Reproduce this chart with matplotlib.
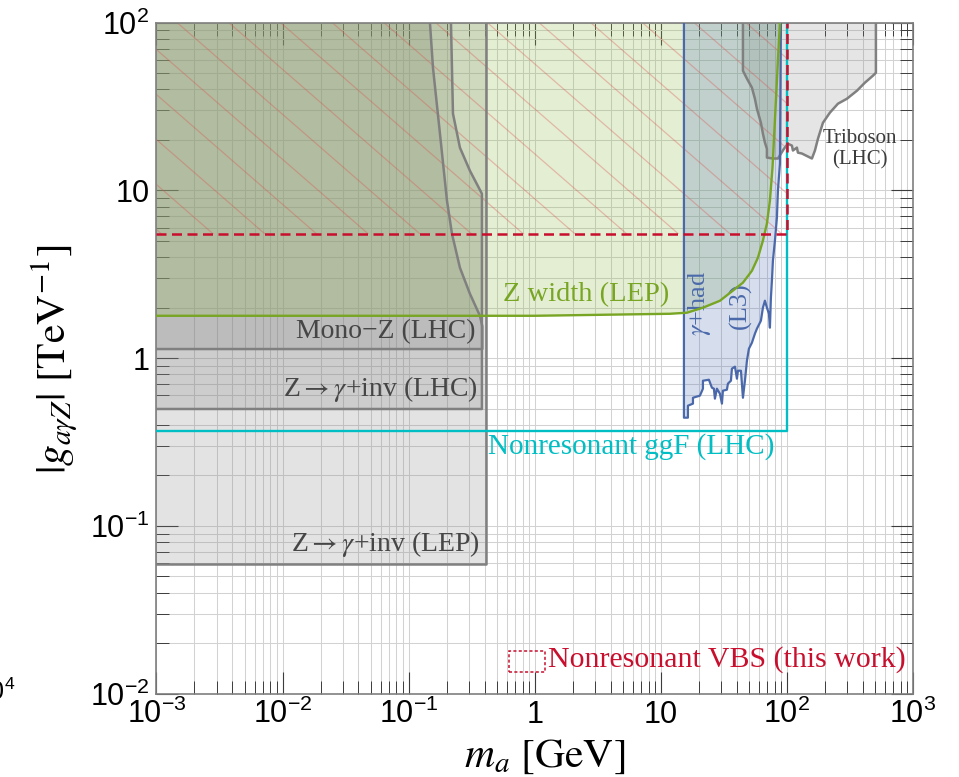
import numpy as np
import matplotlib
matplotlib.use("Agg")
import matplotlib.pyplot as plt
from matplotlib.patches import Rectangle
from matplotlib.ticker import FixedLocator, FixedFormatter, LogLocator, NullFormatter

plt.rcParams.update({
    "mathtext.fontset": "custom",
    "mathtext.rm": "Liberation Sans",
    "mathtext.it": "Liberation Sans:italic",
    "mathtext.bf": "Liberation Sans:bold",
})

SERIF = ["Liberation Serif", "DejaVu Serif"]

# ---------------- data ----------------
x_ticks = [1e-3, 1e-2, 1e-1, 1, 10, 1e2, 1e3]
x_tick_labels = [r"$10^{-3}$", r"$10^{-2}$", r"$10^{-1}$", "1", "10", r"$10^{2}$", r"$10^{3}$"]
y_ticks = [1e-2, 1e-1, 1, 10, 1e2]
y_tick_labels = [r"$10^{-2}$", r"$10^{-1}$", "1", "10", r"$10^{2}$"]

# Z -> gamma + inv (LEP)
lep_m = [1e-3, 0.41, 0.41, 1e-3]
lep_g = [0.0593, 0.0593, 100, 100]

# Z -> gamma + inv (LHC)
lhc_m = [1e-3, 0.381, 0.381, 0.3062, 0.2551, 0.2246, 0.2165, 1e-3]
lhc_g = [0.498, 0.498, 9.56, 13.1, 17.98, 28.7, 100, 100]

# Mono-Z (LHC)
monoz_m = [1e-3, 0.384, 0.384, 0.3675, 0.3062, 0.2551, 0.2205, 0.2013, 0.1771, 0.1559, 0.1475, 1e-3]
monoz_g = [1.134, 1.134, 1.55, 1.79, 2.42, 3.46, 5.52, 8.69, 21.8, 53.9, 100, 100]

# Triboson (LHC)
tri_m = [44.80, 44.80, 48.19, 52.78, 55.75, 57.82, 62.19, 64.52, 66.91, 69.40, 69.40,
         77.45, 84.86, 94.67, 101.8, 109.6, 111.6, 120.0, 122.3, 131.5, 157.9, 166.8,
         176.2, 193.0, 219.3, 253.9, 299.1, 359.1, 415.6, 480.8, 507.9, 507.9]
tri_g = [100, 51.7, 46.4, 41.0, 35.2, 30.7, 25.3, 21.8, 19.3, 17.7, 15.7,
         15.5, 15.5, 17.7, 19.0, 18.5, 17.3, 18.0, 16.8, 16.6, 15.5, 17.3,
         20.3, 25.3, 29.1, 32.9, 35.2, 39.3, 43.9, 48.3, 50.3, 100]

# Z width (LEP)
zw_m = [1e-3, 1.0, 11.81, 16.11, 21.57, 29.43, 37.31, 44.80, 52.78, 58.88, 64.52,
        69.40, 73.31, 76.87, 78.13, 81.8, 84.86, 88.02]
zw_g = [1.79, 1.79, 1.84, 1.867, 2.00, 2.20, 2.53, 2.82, 3.32, 3.97, 5.02,
        6.34, 8.69, 13.7, 17.3, 34.2, 59.4, 100]

# gamma + had (L3)
l3_m = [15.25, 15.25, 16.40, 16.40, 17.98, 17.98, 20.42, 21.57, 21.57, 24.06, 25.42,
        26.36, 26.85, 27.85, 29.43, 30.52, 31.08, 33.43, 34.05, 35.97, 36.63, 38.70,
        40.15, 40.89, 43.19, 44.80, 46.46, 48.19, 49.96, 52.78, 55.75, 57.82, 62.19,
        64.52, 66.91, 69.40, 71.99, 73.31, 74.66, 76.04, 77.45, 80.33, 83.32, 84.86,
        88.02, 89.64]
l3_g = [100, 0.442, 0.442, 0.521, 0.536, 0.581, 0.598, 0.658, 0.734, 0.744, 0.667,
        0.658, 0.574, 0.658, 0.614, 0.536, 0.640, 0.649, 0.705, 0.734, 0.866, 0.890,
        0.755, 0.842, 0.842, 0.581, 0.734, 0.966, 1.139, 1.237, 1.400, 1.499, 1.673,
        2.000, 2.202, 2.000, 1.842, 1.520, 2.295, 2.897, 3.813, 5.015, 6.881, 9.97,
        14.44, 100]

# Nonresonant ggF (LHC)
ggf_m = [1e-3, 100, 100]
ggf_g = [0.366, 0.366, 100]

# Nonresonant VBS (this work)
vbs_m = [1e-3, 100, 100]
vbs_g = [5.50, 5.50, 100]

# ---------------- styles ----------------
GRAY_FILL = "#808080"
GRAY_EDGE = "#808080"
GREEN = "#78a523"
GREEN_FILL = "#96be50"
BLUE = "#4b69aa"
BLUE_FILL = "#4669b4"
CYAN = "#00bec3"
RED = "#c80f2d"
TEXT_GRAY = "#464646"

fig = plt.figure(figsize=(9.59, 7.77), dpi=100)
ax = fig.add_axes([0.16319, 0.10721, 0.78884, 0.86358])
ax.set_xscale("log")
ax.set_yscale("log")
ax.set_xlim(1e-3, 1e3)
ax.set_ylim(1e-2, 1e2)

# grid and ticks
ax.set_axisbelow(True)
ax.grid(True, which="both", color="#d2d2d2", lw=0.75)
ax.xaxis.set_major_locator(FixedLocator(x_ticks))
ax.xaxis.set_major_formatter(FixedFormatter(x_tick_labels))
ax.yaxis.set_major_locator(FixedLocator(y_ticks))
ax.yaxis.set_major_formatter(FixedFormatter(y_tick_labels))
ax.xaxis.set_minor_locator(LogLocator(base=10, subs=np.arange(2, 10), numticks=20))
ax.yaxis.set_minor_locator(LogLocator(base=10, subs=np.arange(2, 10), numticks=20))
ax.xaxis.set_minor_formatter(NullFormatter())
ax.yaxis.set_minor_formatter(NullFormatter())
ax.tick_params(which="both", direction="in", top=True, right=True,
               color="#3c3c3c", labelcolor="black", labelsize=22,
               labelfontfamily="Liberation Sans")
ax.tick_params(which="major", length=15.8, width=0.8)
ax.tick_params(which="minor", length=9.4, width=0.7)
ax.tick_params(axis="x", which="major", pad=21.3)
ax.tick_params(axis="y", which="major", pad=5)
for lab in ax.get_xticklabels():
    lab.set_verticalalignment("baseline")
for sp in ax.spines.values():
    sp.set_color("#7f7f7f")
    sp.set_linewidth(1.2)

# filled regions
ax.fill(lep_m, lep_g, color=GRAY_FILL, alpha=0.22, lw=0, zorder=1)
ax.fill(lhc_m, lhc_g, color=GRAY_FILL, alpha=0.22, lw=0, zorder=1)
ax.fill(monoz_m, monoz_g, color=GRAY_FILL, alpha=0.22, lw=0, zorder=1)
ax.fill(tri_m, tri_g, color=GRAY_FILL, alpha=0.2, lw=0, zorder=1)
ax.fill(zw_m + [1e-3], zw_g + [100], color=GREEN_FILL, alpha=0.25, lw=0, zorder=1.5)
ax.fill(l3_m, l3_g, color=BLUE_FILL, alpha=0.22, lw=0, zorder=1.6)

# diagonal hatching of the VBS exclusion
hatch_clip = Rectangle((vbs_m[0], vbs_g[0]), vbs_m[1] - vbs_m[0], vbs_g[2] - vbs_g[0],
                       transform=ax.transData, fill=False, lw=0)
ax.add_patch(hatch_clip)
slope = -0.654
lg0 = np.log10(vbs_g[0])
for k in range(-12, 24):
    lm_k = -2.5496 + 0.41 * k
    lm = np.array([lm_k - 4, lm_k + 4])
    lg = lg0 + slope * (lm - lm_k)
    ln, = ax.plot(10 ** lm, 10 ** lg, color="#d9534f", alpha=0.35, lw=0.9, zorder=2)
    ln.set_clip_path(hatch_clip)

# boundary lines
ax.plot(lep_m[:3], lep_g[:3], color=GRAY_EDGE, lw=1.8, zorder=3)
ax.plot(lhc_m[:-1], lhc_g[:-1], color=GRAY_EDGE, lw=1.8, zorder=3)
ax.plot(monoz_m[:-1], monoz_g[:-1], color=GRAY_EDGE, lw=1.8, zorder=3)
ax.plot(tri_m, tri_g, color=GRAY_EDGE, lw=1.8, zorder=3)
ax.plot(l3_m, l3_g, color=BLUE, lw=1.6, zorder=3.5)
ax.plot(zw_m, zw_g, color=GREEN, lw=1.7, zorder=3.6)
ax.plot(ggf_m, ggf_g, color=CYAN, lw=1.7, zorder=3.7)
ax.plot(vbs_m, vbs_g, color=RED, lw=1.8, ls=(0, (4.0, 2.2)), zorder=3.8)

# region labels
lab_kw = dict(fontfamily=SERIF, math_fontfamily="stix", va="center")
ax.text(0.342, 1.45, "Mono\u2212Z (LHC)", ha="right", color=TEXT_GRAY, size=20, **lab_kw)
ax.text(0.3546, 0.655, r"Z$\rightarrow\gamma$+inv (LHC)", ha="right", color=TEXT_GRAY, size=20, **lab_kw)
ax.text(0.3675, 0.078, r"Z$\rightarrow\gamma$+inv (LEP)", ha="right", color=TEXT_GRAY, size=20, **lab_kw)
ax.text(0.5596, 2.38, "Z width (LEP)", ha="left", color=GREEN, size=20.5, **lab_kw)
ax.text(0.4255, 0.2955, "Nonresonant ggF (LHC)", ha="left", color=CYAN, size=21, **lab_kw)
ax.text(380, 17.6, "Triboson\n(LHC)", ha="center", color="#3c3c3c", size=15,
        linespacing=1.15, **lab_kw)
ax.text(20.4, 2.13, r"$\gamma$+had", ha="center", rotation=90, color=BLUE, size=19, **lab_kw)
ax.text(42.9, 2.07, "(L3)", ha="center", rotation=90, color=BLUE, size=19, **lab_kw)

# legend entry for this work
ax.add_patch(Rectangle((0.4664, 0.0323), 0.0471, 0.0313, transform=ax.transAxes,
                       fill=False, edgecolor=RED, lw=1.1, ls=(0, (2.0, 1.5)), zorder=5))
ax.text(0.5175, 0.0502, "Nonresonant VBS (this work)", transform=ax.transAxes,
        ha="left", color=RED, size=21.5, **lab_kw)

# axis titles
fig.text(544.5 / 959, 1 - 767 / 777, r"$m_a\ [\mathrm{GeV}]$", ha="center", va="baseline",
         size=30, math_fontfamily="stix", fontfamily=SERIF)
fig.text(66 / 959, 1 - 359 / 777, r"$|g_{a\gamma Z}|\ [\mathrm{TeV}^{-1}]$", ha="center",
         va="baseline", rotation=90, rotation_mode="anchor", size=30,
         math_fontfamily="stix", fontfamily=SERIF)

# neighbouring tick label at the left edge
fig.text(15 / 959, 1 - 700 / 777, r"$10^{4}$", ha="right", va="baseline",
         size=18, fontfamily="Liberation Sans")

fig.savefig("out.png", dpi=100)
